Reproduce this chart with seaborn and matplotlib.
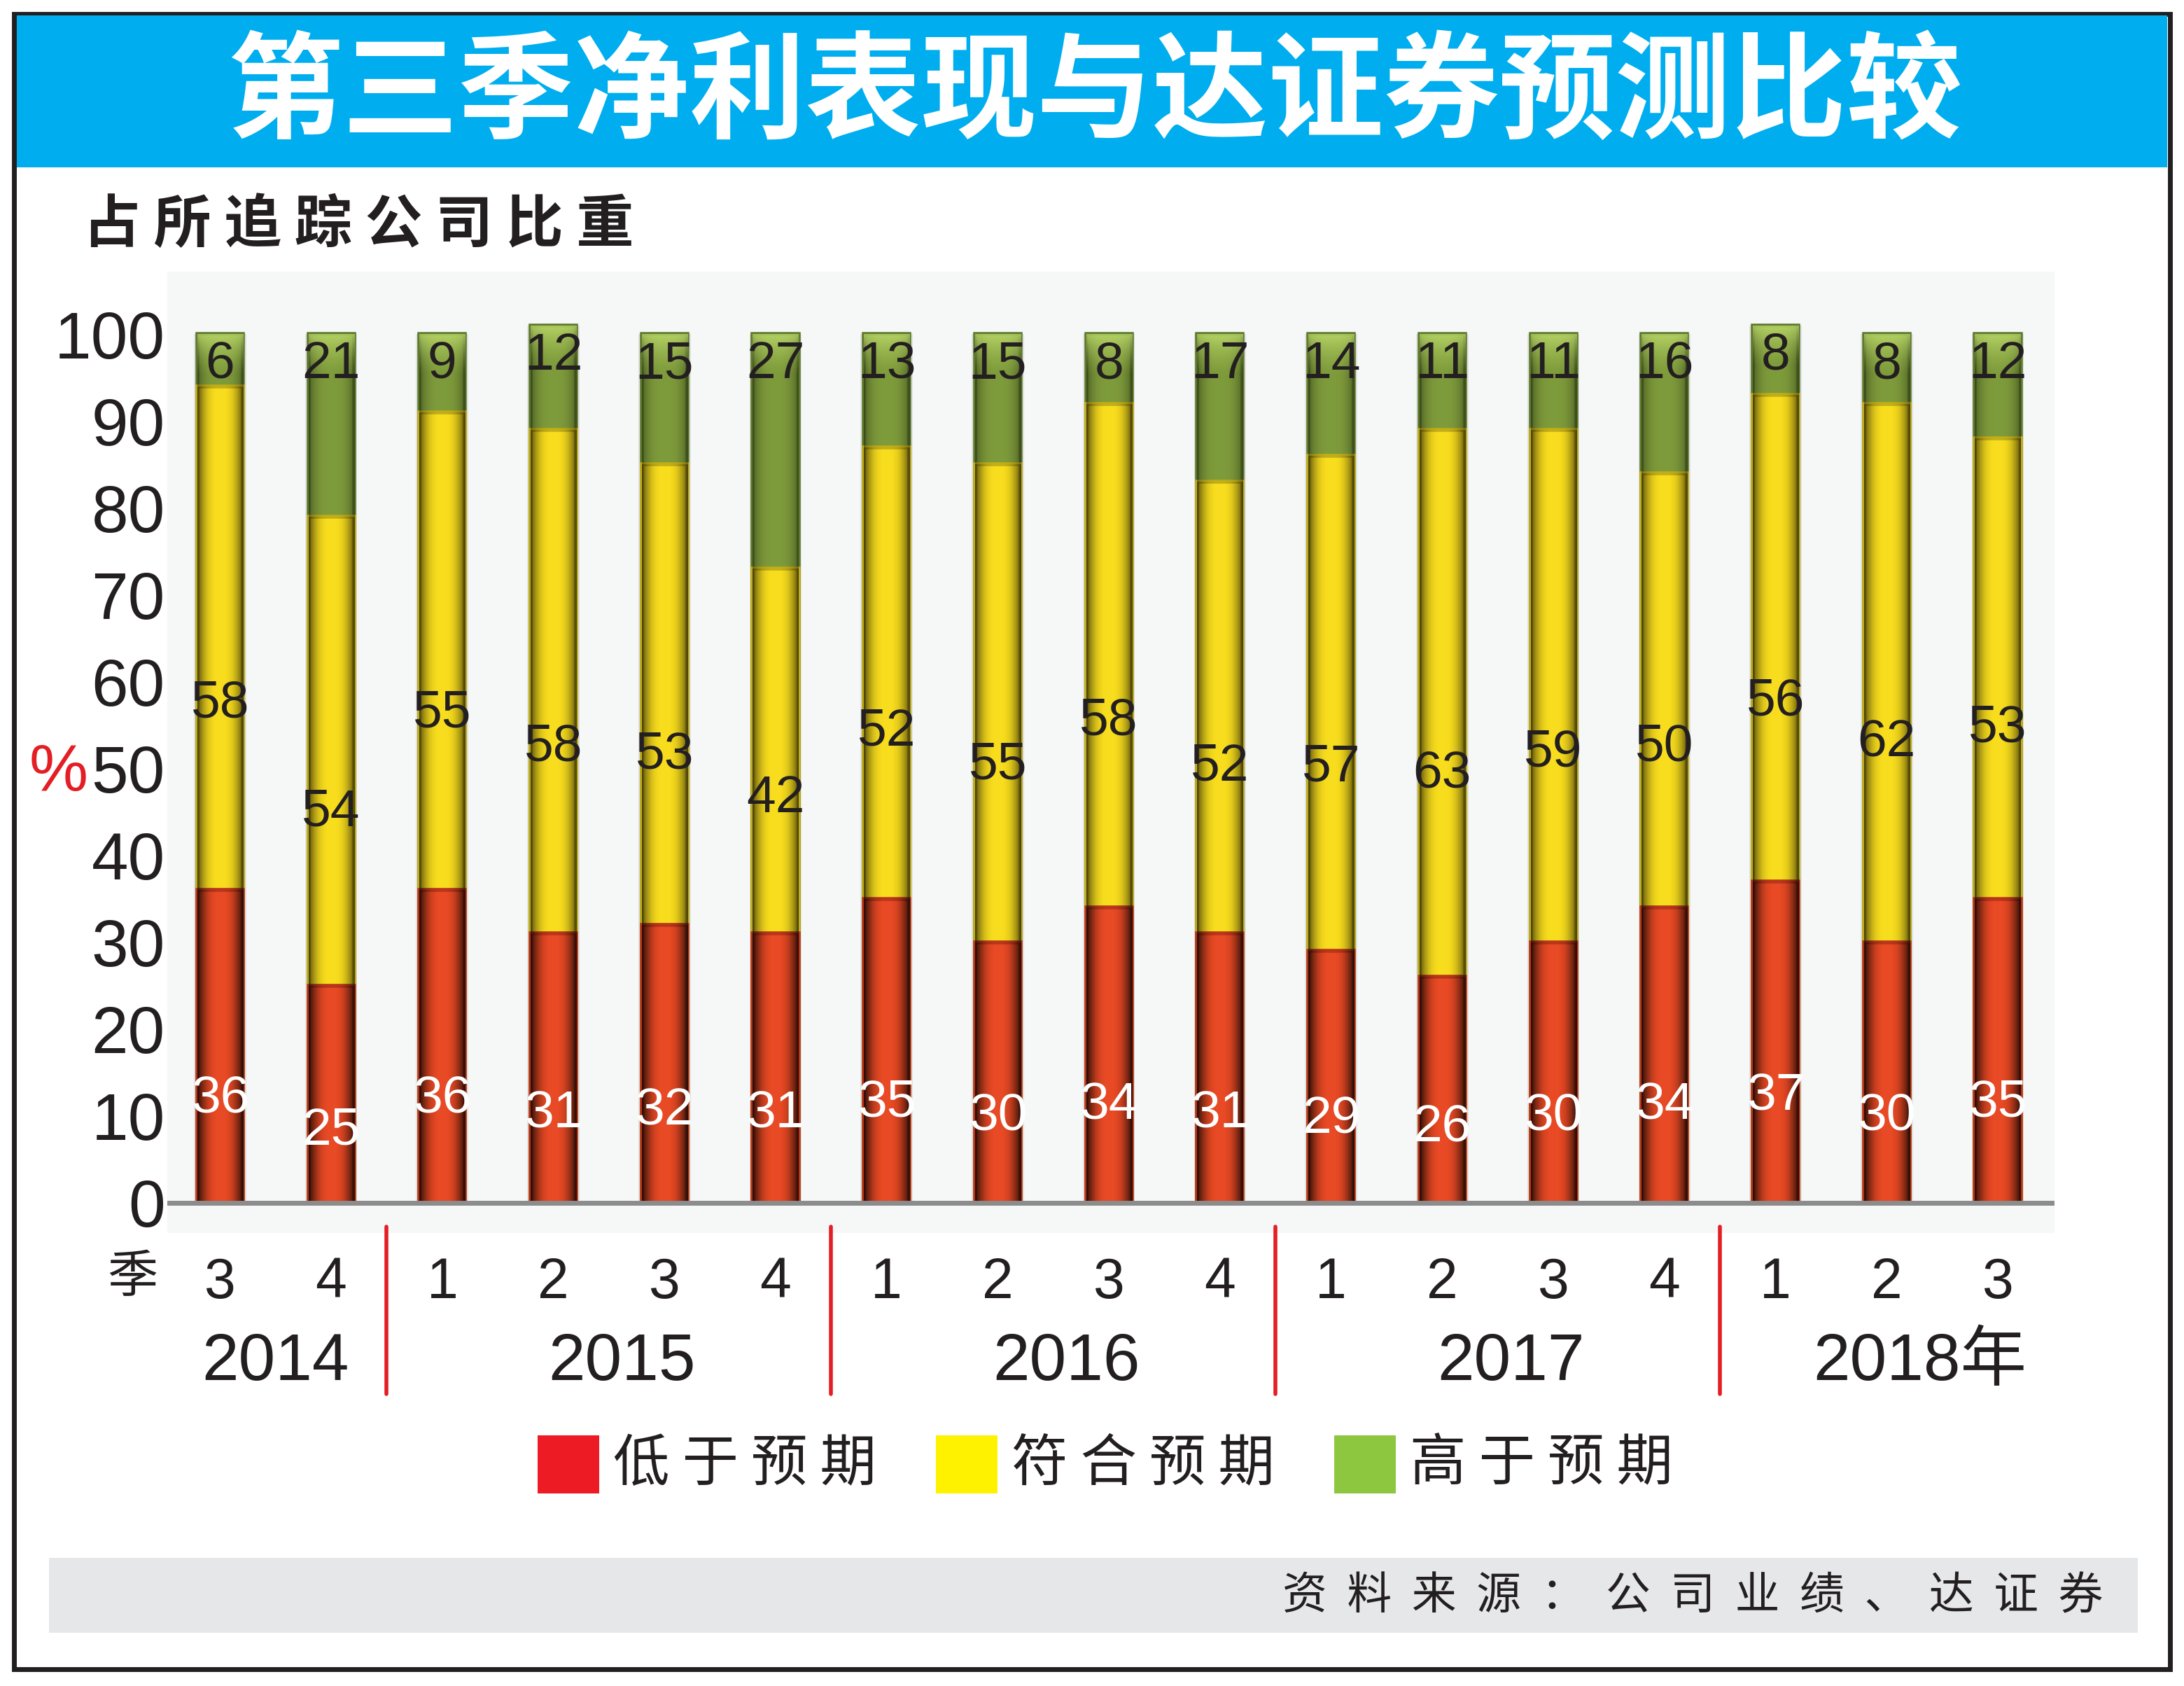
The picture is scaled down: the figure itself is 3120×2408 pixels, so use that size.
import numpy as np
import pandas as pd
import matplotlib
matplotlib.use("Agg")
import matplotlib.pyplot as plt
import seaborn as sns
from matplotlib import font_manager
from matplotlib.patches import Rectangle

# data (percent of tracked companies)
years = ["2014", "2014", "2015", "2015", "2015", "2015", "2016", "2016", "2016",
         "2016", "2017", "2017", "2017", "2017", "2018", "2018", "2018"]
quarters = ["3", "4", "1", "2", "3", "4", "1", "2", "3", "4", "1", "2", "3", "4", "1", "2", "3"]
below = [36, 25, 36, 31, 32, 31, 35, 30, 34, 31, 29, 26, 30, 34, 37, 30, 35]
inline = [58, 54, 55, 58, 53, 42, 52, 55, 58, 52, 57, 63, 59, 50, 56, 62, 53]
above = [6, 21, 9, 12, 15, 27, 13, 15, 8, 17, 14, 11, 11, 16, 8, 8, 12]
year_labels = {"2014": "2014", "2015": "2015", "2016": "2016", "2017": "2017", "2018": "2018年"}
legend_labels = ["低于预期", "符合预期", "高于预期"]

sns.set_theme(style="white")
names = {f.name for f in font_manager.fontManager.ttflist}
NUM = "Liberation Sans" if "Liberation Sans" in names else "DejaVu Sans"
NARROW = "Liberation Sans Narrow" if "Liberation Sans Narrow" in names else NUM
CJK = "Noto Sans CJK SC"
plt.rcParams["font.family"] = [NUM, CJK, "DejaVu Sans"]

RED, YELLOW, GREEN = "#E84A25", "#F8DD1E", "#7E9B3B"
LEG_COLORS = ["#ED1C24", "#FFF200", "#8DC63F"]

periods = [f"{y}Q{q}" for y, q in zip(years, quarters)]
df = pd.DataFrame({"period": periods, "year": years, "below": below,
                   "inline": inline, "above": above})
df["mid_top"] = df["below"] + df["inline"]
df["total"] = df["mid_top"] + df["above"]

W, H = 1568, 1210  # layout measured on the shrunk reference
fig = plt.figure(figsize=(15.6, 12.04), dpi=200)
fig.patch.set_facecolor("white")

# outer frame, banner, footer band
fig.add_artist(Rectangle((10 / W, 1 - 1198 / H), 1548 / W, 1188 / H, transform=fig.transFigure,
                         fill=False, edgecolor="#231F20", lw=2.5))
fig.add_artist(Rectangle((12 / W, 1 - 120 / H), 1544 / W, 109 / H, transform=fig.transFigure,
                         facecolor="#00AEEF", edgecolor="none"))
fig.add_artist(Rectangle((35 / W, 1 - 1172 / H), 1500 / W, 54 / H, transform=fig.transFigure,
                         facecolor="#E6E7E8", edgecolor="none"))

fig.text(786 / W, 1 - 68 / H, "第三季净利表现与达证券预测比较", family=CJK, fontsize=59.5,
         fontweight="bold", color="white", ha="center", va="center")
fig.text(60 / W, 1 - 162 / H, " ".join("占所追踪公司比重"), family=CJK, fontsize=29.5,
         fontweight="bold", color="#231F20", ha="left", va="center")
fig.text(42 / W, 1 - 555 / H, "%", family=NUM, fontsize=34, color="#E31E24",
         ha="center", va="center")

ax = fig.add_axes([120 / W, 1 - 885 / H, 1355 / W, 690 / H])
ax.set_facecolor("#F6F7F7")


def draw(col, color, edge, width, **kw):
    n0 = len(ax.patches)
    sns.barplot(data=df, x="period", y=col, order=periods, color=color, saturation=1,
                width=width, edgecolor=edge, linewidth=2, errorbar=None, ax=ax, **kw)
    return ax.patches[n0:]


shadow = draw("total", "#C8C8C8", "none", 0.47, alpha=0.45)
green = draw("total", GREEN, "#5E7A2C", 0.41)
yellow = draw("mid_top", YELLOW, "#C2AE18", 0.41)
red = draw("below", RED, "#B9361C", 0.41)

# cylinder-like shading on each bar
cols = np.linspace(-1, 1, 64)
shade = np.zeros((1, 64, 4))
shade[0, :, 3] = 0.38 * np.abs(cols) ** 3
for b in green + yellow + red:
    im = ax.imshow(shade, extent=[b.get_x(), b.get_x() + b.get_width(), b.get_y(),
                                  b.get_y() + b.get_height()],
                   aspect="auto", interpolation="bilinear", zorder=b.get_zorder() + 0.1)
    im.set_clip_path(b)

# light highlight at the top of the green caps
rows = np.linspace(0, 1, 40)
hl = np.ones((40, 1, 4))
hl[:, 0, :3] = [0.78, 0.9, 0.45]
hl[:, 0, 3] = 0.75 * (1 - rows) ** 1.5
for b in green:
    top = b.get_y() + b.get_height()
    im = ax.imshow(hl, extent=[b.get_x(), b.get_x() + b.get_width(), top - 5, top],
                   aspect="auto", interpolation="bilinear", zorder=b.get_zorder() + 0.2)
    im.set_clip_path(b)

# value labels
lab_size = 30 if NARROW != NUM else 27
for i, r in df.iterrows():
    ax.text(i, r["below"] * 0.33, str(r["below"]), color="white", fontsize=lab_size,
            family=NARROW, ha="center", va="center", zorder=10)
    ax.text(i, r["below"] + r["inline"] * 0.37, str(r["inline"]), color="#231F20",
            fontsize=lab_size, family=NARROW, ha="center", va="center", zorder=10)
    ax.text(i, r["total"] - 3.5, str(r["above"]), color="#231F20", fontsize=lab_size,
            family=NARROW, ha="center", va="center", zorder=10)

ax.axhline(0, color="#8C8C8C", lw=2.5, zorder=6)
ax.set_xlim(-0.476, 16.51)
ax.set_ylim(-3.5, 107.2)
sns.despine(ax=ax, left=True, bottom=True)
ax.set_yticks(range(0, 101, 10))
ax.set_yticklabels([str(v) for v in range(0, 101, 10)], fontsize=34, color="#231F20")
ax.set_xticks(range(len(periods)))
ax.set_xticklabels(quarters, fontsize=29, color="#231F20")
ax.tick_params(axis="y", length=0, pad=1)
ax.tick_params(axis="x", length=0, pad=12)
ax.set_xlabel("")
ax.set_ylabel("")

xt = ax.get_xaxis_transform()
ax.text(-0.79, -0.046, "季", family=CJK, fontsize=26, color="#231F20", ha="center",
        va="center", transform=xt, clip_on=False)

# year separators and year labels
df["pos"] = np.arange(len(df))
for y, g in df.groupby("year"):
    if g["pos"].min() > 0:
        x = g["pos"].min() - 0.5
        ax.plot([x, x], [0.007, -0.167], transform=xt, color="#E31E24", lw=2, clip_on=False)
    label = year_labels[y]
    xc = g["pos"].mean()
    if label.endswith("年"):
        xc += 0.3
    elif len(g) == 4:
        xc += 0.12
    ax.text(xc, -0.135, label, family=[NUM, CJK], fontsize=34, color="#231F20",
            ha="center", va="center", transform=xt, clip_on=False)

# legend
for k, (lab, c) in enumerate(zip(legend_labels, LEG_COLORS)):
    x0 = [386, 672, 958][k]
    fig.add_artist(Rectangle((x0 / W, 1 - 1072 / H), 44 / W, 42 / H,
                             transform=fig.transFigure, facecolor=c, edgecolor="none"))
    fig.text((x0 + 54) / W, 1 - 1051 / H, " ".join(lab), family=CJK, fontsize=29,
             fontweight="medium", color="#231F20", ha="left", va="center")

fig.text(1510 / W, 1 - 1146 / H, "  ".join("资料来源：公司业绩、达证券"), family=CJK,
         fontsize=23, color="#231F20", ha="right", va="center")

fig.savefig("out.png", dpi=200)
plt.close(fig)
